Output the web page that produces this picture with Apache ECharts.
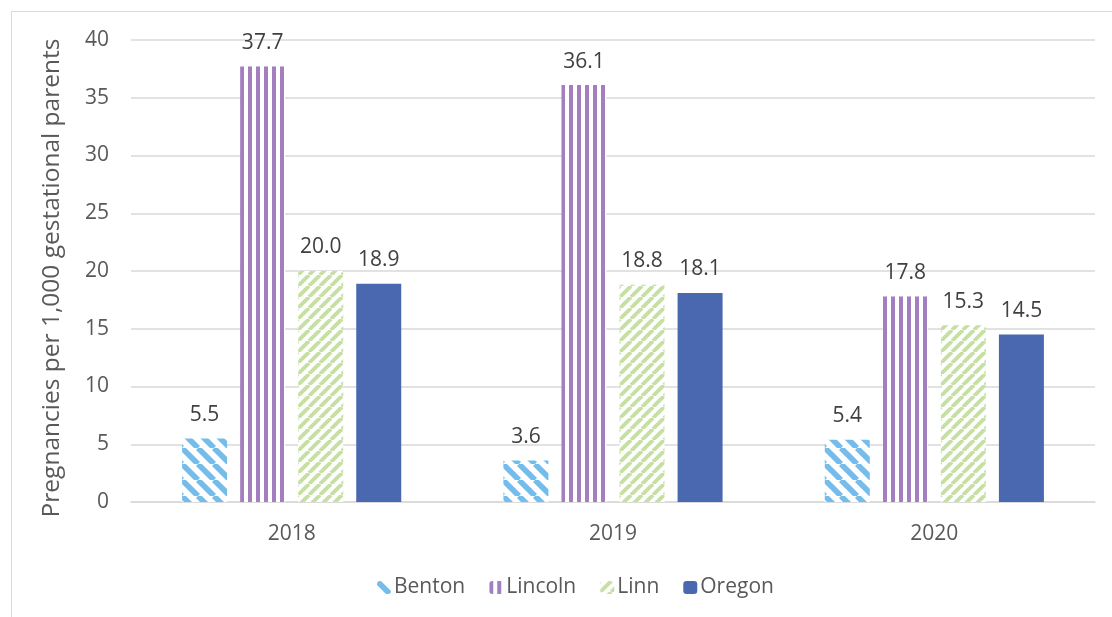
<!DOCTYPE html>
<html>
<head>
<meta charset="utf-8">
<title>Pregnancies per 1,000 gestational parents</title>
<script src="https://cdn.jsdelivr.net/npm/echarts@6/dist/echarts.min.js"></script>
<style>
  html, body { margin: 0; padding: 0; background: #ffffff; }
  #frame { position: absolute; left: 11px; top: 11px; width: 1120px; height: 640px;
           border-left: 1px solid #d9d9d9; border-top: 1px solid #d9d9d9; box-sizing: border-box; }
  #chart { position: absolute; left: 0; top: 0; width: 1112px; height: 617px; }
</style>
</head>
<body>
<div id="frame"></div>
<div id="chart"></div>
<script>
// Years on the category axis
const years = ['2018', '2019', '2020'];

// Rates per 1,000 gestational parents
const benton  = [5.5, 3.6, 5.4];
const lincoln = [37.7, 36.1, 17.8];
const linn    = [20.0, 18.8, 15.3];
const oregon  = [18.9, 18.1, 14.5];

// Value axis ticks
const yTicks = [0, 5, 10, 15, 20, 25, 30, 35, 40];

const FONT = '"Open Sans", "DejaVu Sans", sans-serif';

// Striped fills drawn onto small repeating canvases
function diagonalCanvas(color, period, width, backslash) {
  const c = document.createElement('canvas');
  c.width = period; c.height = period;
  const g = c.getContext('2d');
  g.fillStyle = '#ffffff';
  g.fillRect(0, 0, period, period);
  g.strokeStyle = color;
  g.lineWidth = width;
  for (let k = -period; k <= period; k += period) {
    g.beginPath();
    if (backslash) { g.moveTo(k, 0); g.lineTo(k + period, period); }
    else { g.moveTo(k + period, 0); g.lineTo(k, period); }
    g.stroke();
  }
  return c;
}

function verticalCanvas(color, period, width) {
  const c = document.createElement('canvas');
  c.width = period; c.height = period;
  const g = c.getContext('2d');
  g.fillStyle = '#ffffff';
  g.fillRect(0, 0, period, period);
  g.fillStyle = color;
  g.fillRect(0, 0, width, period);
  return c;
}

const bentonImg  = diagonalCanvas('#74BCEA', 16, 5.6, true);
const lincolnImg = verticalCanvas('#A47FC0', 8, 4);
const linnImg    = diagonalCanvas('#C6E0A4', 11, 3.9, false);
const oregonFill = '#4968B0';

const labelStyle = {
  show: true,
  position: 'top',
  distance: 13,
  color: '#404040',
  fontSize: 21,
  fontFamily: FONT,
  formatter: p => p.value.toFixed(1)
};

function barSeries(name, data, fill) {
  return {
    name: name,
    type: 'bar',
    data: data,
    barWidth: 45,
    barGap: '29%',
    itemStyle: { color: fill },
    label: labelStyle,
    emphasis: { disabled: true }
  };
}

const chart = echarts.init(document.getElementById('chart'), null, { renderer: 'canvas' });
chart.setOption({
  animation: false,
  backgroundColor: 'transparent',
  textStyle: { fontFamily: FONT },
  grid: { left: 131, right: 17, top: 40, bottom: 115, containLabel: false },
  legend: {
    bottom: 14,
    left: 372,
    itemWidth: 14,
    itemHeight: 13,
    itemGap: 24,
    textStyle: { color: '#595959', fontSize: 21, fontFamily: FONT, padding: [0, 0, 0, -2] },
    data: ['Benton', 'Lincoln', 'Linn', 'Oregon']
  },
  xAxis: {
    type: 'category',
    data: years,
    axisLine: { show: true, lineStyle: { color: '#d9d9d9', width: 1.5 } },
    axisTick: { show: false },
    axisLabel: { color: '#595959', fontSize: 21, fontFamily: FONT, margin: 22 }
  },
  yAxis: {
    type: 'value',
    min: yTicks[0],
    max: yTicks[yTicks.length - 1],
    interval: yTicks[1] - yTicks[0],
    name: 'Pregnancies per 1,000 gestational parents',
    nameLocation: 'middle',
    nameGap: 66,
    nameTextStyle: { color: '#595959', fontSize: 24.5, fontFamily: FONT, padding: [0, 14, 0, 0] },
    axisLine: { show: false },
    axisTick: { show: false },
    splitLine: { lineStyle: { color: '#d9d9d9', width: 1.5 } },
    axisLabel: { color: '#595959', fontSize: 21, fontFamily: FONT, margin: 22 }
  },
  series: [
    barSeries('Benton', benton, { image: bentonImg, repeat: 'repeat' }),
    barSeries('Lincoln', lincoln, { image: lincolnImg, repeat: 'repeat' }),
    barSeries('Linn', linn, { image: linnImg, repeat: 'repeat' }),
    barSeries('Oregon', oregon, oregonFill)
  ]
});

// Anchor each striped fill to its own bar so every bar starts on a stripe
const striped = [[0, benton, bentonImg], [1, lincoln, lincolnImg], [2, linn, linnImg]];
const seriesPatch = [];
striped.forEach(([idx, values, img]) => {
  const data = chart.getModel().getSeriesByIndex(idx).getData();
  seriesPatch[idx] = {
    data: values.map((v, i) => {
      const box = data.getItemLayout(i);
      return { value: v, itemStyle: { color: { image: img, repeat: 'repeat', x: Math.round(box.x), y: 0 } } };
    })
  };
});
seriesPatch[3] = {};
chart.setOption({ series: seriesPatch });
</script>
</body>
</html>
